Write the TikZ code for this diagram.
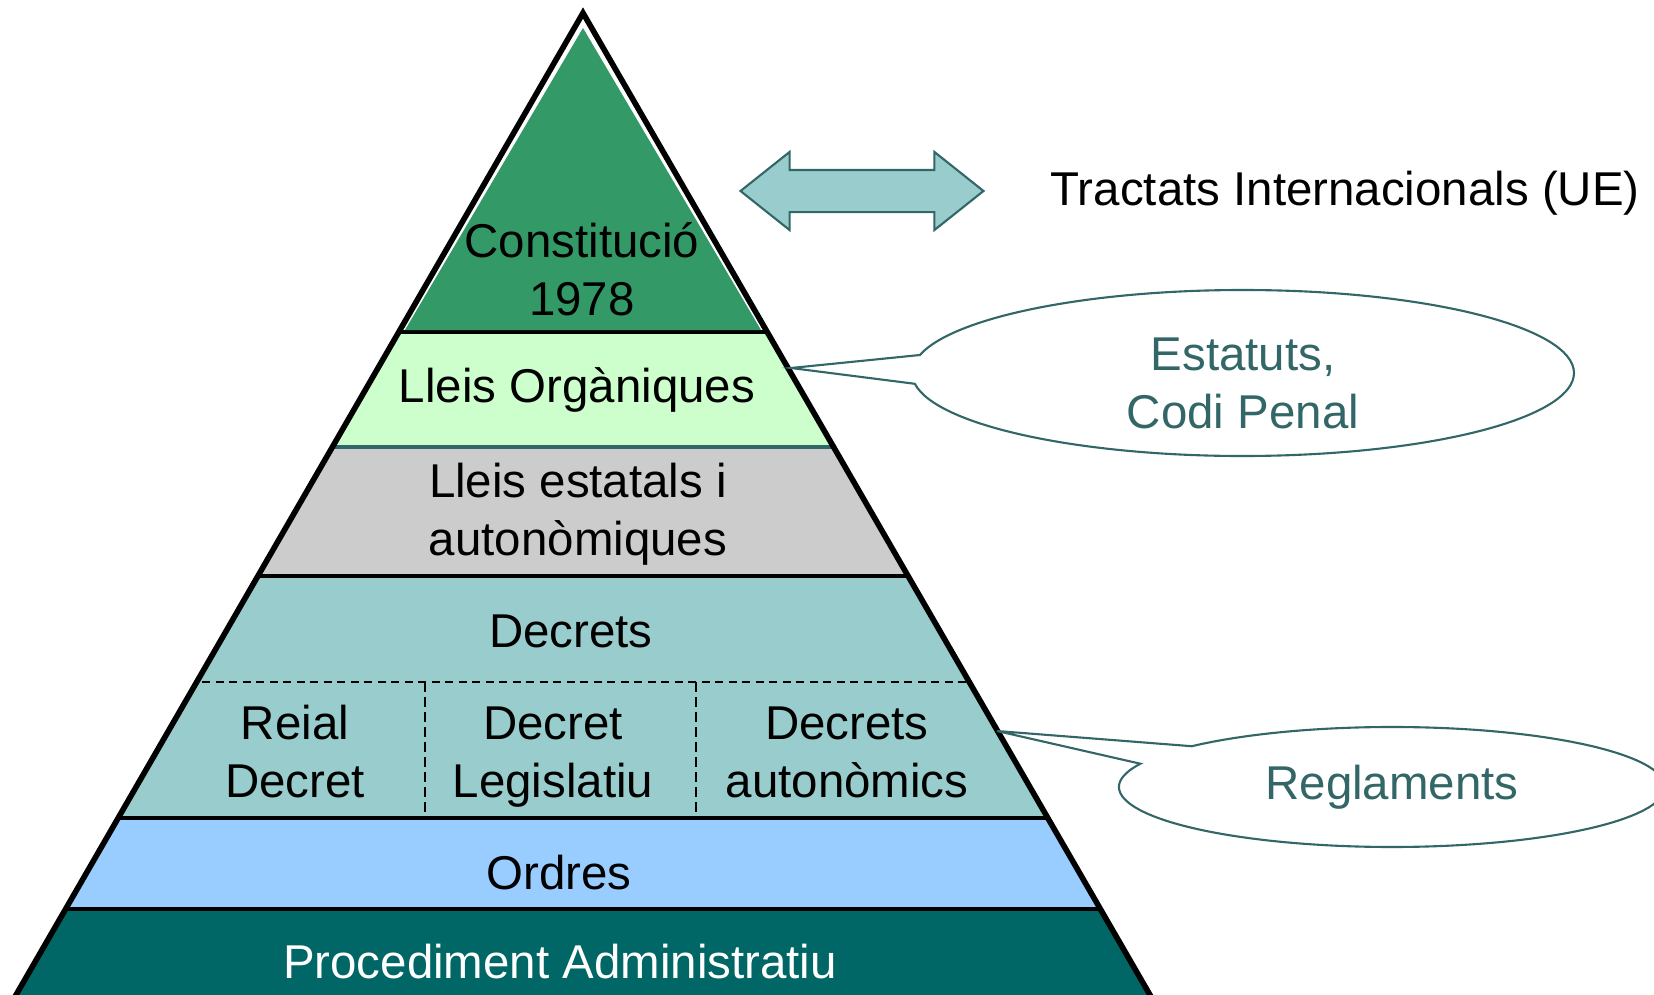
\documentclass[tikz,border=0pt]{standalone}
\usepackage{fontspec}
\setmainfont{Liberation Sans}
\usetikzlibrary{shapes,shapes.callouts,arrows}
\usetikzlibrary{positioning}

\definecolor{constgreen}{HTML}{339966}
\definecolor{lleisgreen}{HTML}{CCFFCC}
\definecolor{estgray}{HTML}{CCCCCC}
\definecolor{decteal}{HTML}{99CCCC}
\definecolor{ordblue}{HTML}{99CCFF}
\definecolor{procteal}{HTML}{006666}
\definecolor{darkteal}{HTML}{336666}

\begin{document}
\begin{tikzpicture}[x=0.1mm,y=-0.1mm,
    every node/.style={font=\fontsize{13.5}{16.5}\selectfont,align=center,inner sep=0pt},
    layer/.style={line width=0.9pt},
    bubble/.style={ellipse callout,draw=darkteal,line width=0.6pt,text=darkteal,callout pointer arc=20}]
    \useasboundingbox (0,0) rectangle (1654,995);
    \coordinate (top) at (583,13);
    \coordinate (bl) at (-10,1040);
    \coordinate (br) at (1176,1040);
    % pyramid layers
    \begin{scope}
        \clip (top) -- (bl) -- (br) -- cycle;
        \fill[lleisgreen] (0,332) rectangle (1654,447);
        \fill[estgray] (0,447) rectangle (1654,576);
        \fill[decteal] (0,576) rectangle (1654,818);
        \fill[ordblue] (0,818) rectangle (1654,909);
        \fill[procteal] (0,909) rectangle (1654,1040);
        \draw[layer] (0,332) -- (1654,332);
        \draw[layer,darkteal] (0,447) -- (1654,447);
        \draw[layer] (0,576) -- (1654,576);
        \draw[layer] (0,818) -- (1654,818);
        \draw[layer] (0,909) -- (1654,909);
        \draw[line width=0.6pt,dash pattern=on 0.8mm off 0.55mm] (0,682) -- (1654,682);
        \draw[line width=0.5pt,dash pattern=on 1mm off 0.5mm] (425,682) -- (425,818);
        \draw[line width=0.5pt,dash pattern=on 1mm off 0.5mm] (696,682) -- (696,818);
    \end{scope}
    \fill[constgreen] (583,28) -- (405,330) -- (761,330) -- cycle;
    \draw[line width=1.6pt] (bl) -- (top) -- (br);

    \node (constitucio) at (582,269) {Constitució\\1978};
    \node (organiques) at (577,390) {Lleis Orgàniques};
    \node (estatals) at (578,514) {Lleis estatals i\\autonòmiques};
    \node (decrets) at (571,631) {Decrets};
    \node (reial) at (295,752) {Reial\\Decret};
    \node (legislatiu) at (553,757) {Decret\\Legislatiu};
    \node (autonomics) at (847,752) {Decrets\\autonòmics};
    \node (ordres) at (559,873) {Ordres};
    \node[text=white] (procediment) at (560,962) {Procediment Administratiu};

    \node[double arrow,draw=darkteal,fill=decteal,line width=0.6pt,
          inner xsep=0pt,inner ysep=2mm,
          minimum height=24.3mm,double arrow head extend=1.8mm,
          double arrow tip angle=77,double arrow head indent=0pt] (ue) at (862,191) {};
    \node[anchor=west] (tractats) at (1050,193) {Tractats Internacionals (UE)};

    \coordinate (tipest) at (791,368);
    \coordinate (tipreg) at (997,731);
    \node[bubble,minimum width=66.2mm,minimum height=16.6mm,
          callout absolute pointer={(tipest)}] (estatuts) at (1243,373)
          {\rule{0pt}{5.4mm}Estatuts,\\Codi Penal};
    \node[bubble,minimum width=54.6mm,minimum height=12mm,
          callout absolute pointer={(tipreg)}] (reglaments) at (1392,787) {Reglaments};
\end{tikzpicture}
\end{document}
